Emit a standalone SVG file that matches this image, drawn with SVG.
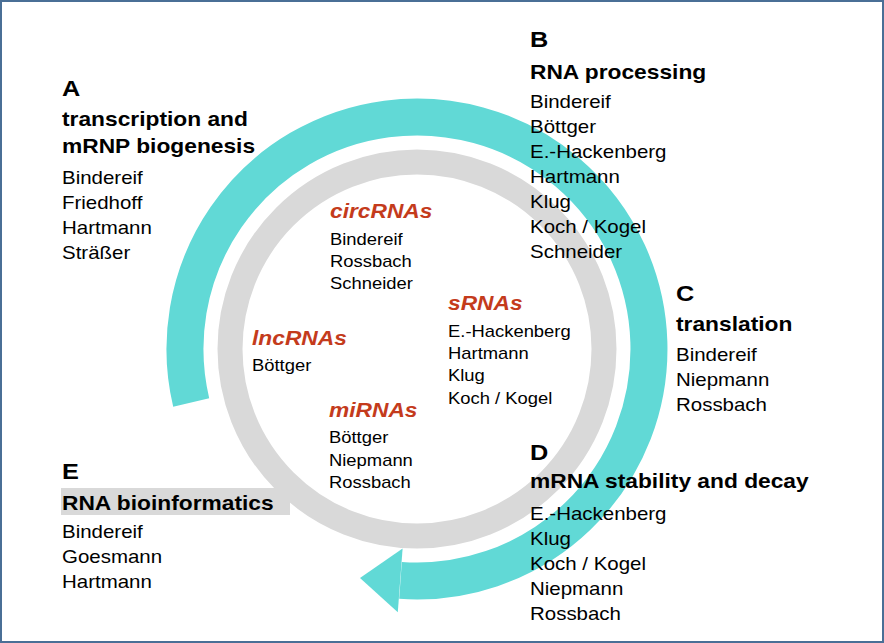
<svg xmlns="http://www.w3.org/2000/svg" width="884" height="643" viewBox="0 0 884 643">
<style>
text{font-family:"Liberation Sans",Arial,sans-serif;fill:#000}
.lt{font-size:22px;font-weight:bold}
.hd{font-size:19.8px;font-weight:bold}
.nm{font-size:17.8px}
.rd{font-size:19.8px;font-weight:bold;font-style:italic;fill:#c43b1c}
.in{font-size:16px}
</style>
<rect x="1" y="1" width="882" height="641" fill="#fff" stroke="#4a6f96" stroke-width="2"/>
<g id="cycle">
<circle cx="417" cy="349" r="187" fill="none" stroke="#d9d9d9" stroke-width="25"/>
<rect x="61" y="488" width="229" height="27" fill="#d9d9d9"/>
</g>
<g id="connectors">
<path d="M191.2 402.4 A232 232 0 1 1 400.5 580.4" fill="none" stroke="#61d9d6" stroke-width="37"/>
<polygon points="402.6,548.5 397.8,612.3 360,578" fill="#61d9d6"/>
</g>
<g id="nodeA" transform="translate(62,0) scale(1.15,1)">
<text class="lt" x="0" y="96">A</text>
<text class="hd" x="0" y="126.5">transcription and</text>
<text class="hd" x="0" y="153">mRNP biogenesis</text>
<text class="nm" x="0" y="184">Bindereif</text>
<text class="nm" x="0" y="209">Friedhoff</text>
<text class="nm" x="0" y="234">Hartmann</text>
<text class="nm" x="0" y="259">Sträßer</text>
</g>
<g id="nodeB" transform="translate(530,0) scale(1.15,1)">
<text class="lt" x="0" y="47">B</text>
<text class="hd" x="0" y="79">RNA processing</text>
<text class="nm" x="0" y="108">Bindereif</text>
<text class="nm" x="0" y="133">Böttger</text>
<text class="nm" x="0" y="158">E.-Hackenberg</text>
<text class="nm" x="0" y="183">Hartmann</text>
<text class="nm" x="0" y="208">Klug</text>
<text class="nm" x="0" y="233">Koch / Kogel</text>
<text class="nm" x="0" y="258">Schneider</text>
</g>
<g id="nodeC" transform="translate(676,0) scale(1.15,1)">
<text class="lt" x="0" y="301.5">C</text>
<text class="hd" x="0" y="331">translation</text>
<text class="nm" x="0" y="361">Bindereif</text>
<text class="nm" x="0" y="386">Niepmann</text>
<text class="nm" x="0" y="411">Rossbach</text>
</g>
<g id="nodeD" transform="translate(530,0) scale(1.15,1)">
<text class="lt" x="0" y="460.5">D</text>
<text class="hd" x="0" y="488">mRNA stability and decay</text>
<text class="nm" x="0" y="520">E.-Hackenberg</text>
<text class="nm" x="0" y="545">Klug</text>
<text class="nm" x="0" y="570">Koch / Kogel</text>
<text class="nm" x="0" y="595">Niepmann</text>
<text class="nm" x="0" y="620">Rossbach</text>
</g>
<g id="nodeE" transform="translate(62,0) scale(1.15,1)">
<text class="lt" x="0" y="479">E</text>
<text class="hd" x="0" y="510">RNA bioinformatics</text>
<text class="nm" x="0" y="538">Bindereif</text>
<text class="nm" x="0" y="563">Goesmann</text>
<text class="nm" x="0" y="588">Hartmann</text>
</g>
<g id="circRNAs" transform="translate(330,0) scale(1.15,1)">
<text class="rd" x="0" y="218">circRNAs</text>
<text class="in" x="0" y="245">Bindereif</text>
<text class="in" x="0" y="267">Rossbach</text>
<text class="in" x="0" y="289">Schneider</text>
</g>
<g id="sRNAs" transform="translate(448,0) scale(1.15,1)">
<text class="rd" x="0" y="310">sRNAs</text>
<text class="in" x="0" y="337">E.-Hackenberg</text>
<text class="in" x="0" y="359">Hartmann</text>
<text class="in" x="0" y="381">Klug</text>
<text class="in" x="0" y="404">Koch / Kogel</text>
</g>
<g id="lncRNAs" transform="translate(252,0) scale(1.15,1)">
<text class="rd" x="0" y="345">lncRNAs</text>
<text class="in" x="0" y="371">Böttger</text>
</g>
<g id="miRNAs" transform="translate(329,0) scale(1.15,1)">
<text class="rd" x="0" y="417">miRNAs</text>
<text class="in" x="0" y="443">Böttger</text>
<text class="in" x="0" y="466">Niepmann</text>
<text class="in" x="0" y="488">Rossbach</text>
</g>
</svg>
